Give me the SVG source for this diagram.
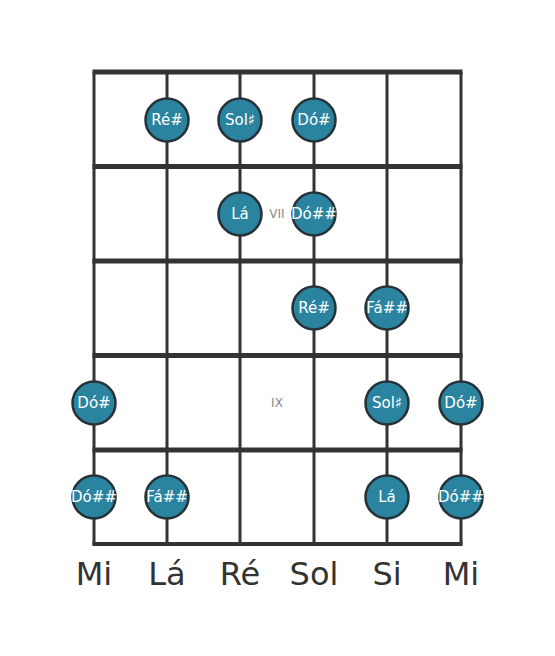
<svg xmlns="http://www.w3.org/2000/svg" width="555" height="656" viewBox="0 0 555 656">
<style>
.str{stroke:#333;stroke-width:3;fill:none}
.fret{stroke:#333;stroke-width:5;fill:none}
.note circle{fill:#2a849f;stroke:#263238;stroke-width:2.5}
.note text{fill:#fff;font-family:"DejaVu Sans",sans-serif;font-size:15px;text-anchor:middle;dominant-baseline:central}
.mark{fill:#888;font-family:"DejaVu Sans",sans-serif;font-size:12px;text-anchor:middle;dominant-baseline:central}
.lbl{fill:#333;font-family:"DejaVu Sans",sans-serif;font-size:32px;text-anchor:middle}
</style>
<rect width="555" height="656" fill="#fff"/>
<g id="board">
<line class="str" x1="94" y1="72" x2="94" y2="545"/>
<line class="str" x1="167" y1="72" x2="167" y2="545"/>
<line class="str" x1="240" y1="72" x2="240" y2="545"/>
<line class="str" x1="314" y1="72" x2="314" y2="545"/>
<line class="str" x1="387" y1="72" x2="387" y2="545"/>
<line class="str" x1="461" y1="72" x2="461" y2="545"/>
<line class="fret" x1="92.5" y1="72" x2="462.5" y2="72"/>
<line class="fret" x1="92.5" y1="166.5" x2="462.5" y2="166.5"/>
<line class="fret" x1="92.5" y1="261" x2="462.5" y2="261"/>
<line class="fret" x1="92.5" y1="355.5" x2="462.5" y2="355.5"/>
<line class="fret" x1="92.5" y1="450" x2="462.5" y2="450"/>
<line class="fret" x1="92.5" y1="544" x2="462.5" y2="544" style="stroke-width:4"/>
</g>
<g id="markers">
<text class="mark" x="277" y="214">VII</text>
<text class="mark" x="277" y="403">IX</text>
</g>
<g id="n1" class="note"><circle cx="167" cy="120" r="21.5"/><text x="167" y="120">Ré#</text></g>
<g id="n2" class="note"><circle cx="240" cy="120" r="21.5"/><text x="240" y="120">Sol♯</text></g>
<g id="n3" class="note"><circle cx="314" cy="120" r="21.5"/><text x="314" y="120">Dó#</text></g>
<g id="n4" class="note"><circle cx="240" cy="214" r="21.5"/><text x="240" y="214">Lá</text></g>
<g id="n5" class="note"><circle cx="314" cy="214" r="21.5"/><text x="314" y="214">Dó##</text></g>
<g id="n6" class="note"><circle cx="314" cy="308" r="21.5"/><text x="314" y="308">Ré#</text></g>
<g id="n7" class="note"><circle cx="387" cy="308" r="21.5"/><text x="387" y="308">Fá##</text></g>
<g id="n8" class="note"><circle cx="94" cy="403" r="21.5"/><text x="94" y="403">Dó#</text></g>
<g id="n9" class="note"><circle cx="387" cy="403" r="21.5"/><text x="387" y="403">Sol♯</text></g>
<g id="n10" class="note"><circle cx="461" cy="403" r="21.5"/><text x="461" y="403">Dó#</text></g>
<g id="n11" class="note"><circle cx="94" cy="497" r="21.5"/><text x="94" y="497">Dó##</text></g>
<g id="n12" class="note"><circle cx="167" cy="497" r="21.5"/><text x="167" y="497">Fá##</text></g>
<g id="n13" class="note"><circle cx="387" cy="497" r="21.5"/><text x="387" y="497">Lá</text></g>
<g id="n14" class="note"><circle cx="461" cy="497" r="21.5"/><text x="461" y="497">Dó##</text></g>
<g id="labels">
<text class="lbl" x="94" y="585">Mi</text>
<text class="lbl" x="167" y="585">Lá</text>
<text class="lbl" x="240" y="585">Ré</text>
<text class="lbl" x="314" y="585">Sol</text>
<text class="lbl" x="387" y="585">Si</text>
<text class="lbl" x="461" y="585">Mi</text>
</g>
</svg>
